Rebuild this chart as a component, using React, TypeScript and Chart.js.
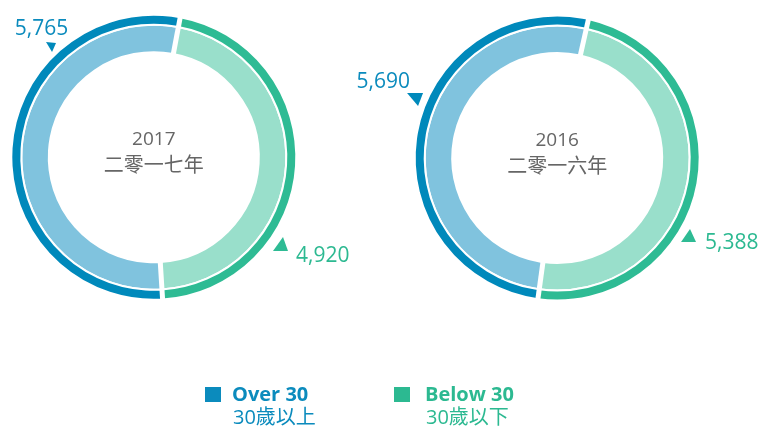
import React, { useEffect, useRef } from 'react';
import { Chart, registerables } from 'chart.js';

Chart.register(...registerables);

// ---- data ----
const years = ['2017', '2016'];
const yearsZh = ['二零一七年', '二零一六年'];
const seriesNames = ['Over 30', 'Below 30'];
const seriesNamesZh = ['30歲以上', '30歲以下'];
const over30 = [5765, 5690];
const below30 = [4920, 5388];

// ---- styles ----
const DARK_BLUE = '#0089bb';
const LIGHT_BLUE = '#80c3de';
const DARK_GREEN = '#2ebb94';
const LIGHT_GREEN = '#99dfcb';
const TEXT_BLUE = '#0b8bbd';
const TEXT_GREEN = '#2cb991';
const CENTER_GRAY = '#666666';

type LabelCfg = {
  series: 'over' | 'below';
  angle: number; // deg clockwise from top
  r: number;
  tri: number[][];
  tx: number;
  ty: number;
  align: CanvasTextAlign;
};

const chartLayouts = [
  {
    left: 0,
    width: 380,
    rotation: 10.7,
    padding: { left: 10.3, top: 13.7, right: 82.7, bottom: 126.3 },
    labels: [
      { series: 'over', angle: -42.75, r: 151.4, tri: [[-5, -4], [5, -3], [1, 6]], tx: -9.5, ty: -11, align: 'center' },
      { series: 'below', angle: 124.9, r: 155.1, tri: [[-8, 5], [7, 5], [2, -9]], tx: 15, ty: 16, align: 'left' },
    ] as LabelCfg[],
  },
  {
    left: 340,
    width: 420,
    rotation: 12.7,
    padding: { left: 73.7, top: 14.5, right: 59.3, bottom: 125.5 },
    labels: [
      { series: 'over', angle: -66.6, r: 153.8, tri: [[-9, -4], [7, -4], [2, 9]], tx: -6, ty: -9, align: 'right' },
      { series: 'below', angle: 121.25, r: 154.2, tri: [[-8, 4], [7, 4], [1, -9]], tx: 16, ty: 11, align: 'left' },
    ] as LabelCfg[],
  },
];

function fmt(n: number) {
  return n.toLocaleString('en-US');
}

function Donut({ index }: { index: number }) {
  const ref = useRef<HTMLCanvasElement | null>(null);
  useEffect(() => {
    if (!ref.current) return;
    const layout = chartLayouts[index];
    const overlay = {
      id: 'overlay' + index,
      afterDatasetsDraw(chart: any) {
        const outerArcs = chart.getDatasetMeta(0).data;
        const innerArcs = chart.getDatasetMeta(chart.data.datasets.length - 1).data;
        if (!outerArcs.length || !innerArcs.length) return;
        const cx = outerArcs[0].x;
        const cy = outerArcs[0].y;
        const rIn = innerArcs[0].innerRadius - 2;
        const rOut = outerArcs[0].outerRadius + 2;
        const ctx = chart.ctx as CanvasRenderingContext2D;
        ctx.save();
        ctx.strokeStyle = '#ffffff';
        ctx.lineWidth = 5;
        ctx.lineCap = 'butt';
        for (const arc of outerArcs) {
          const a = arc.startAngle;
          ctx.beginPath();
          ctx.moveTo(cx + Math.cos(a) * rIn, cy + Math.sin(a) * rIn);
          ctx.lineTo(cx + Math.cos(a) * rOut, cy + Math.sin(a) * rOut);
          ctx.stroke();
        }
        ctx.restore();
      },
      afterDraw(chart: any) {
        const arc = chart.getDatasetMeta(0).data[0];
        if (!arc) return;
        const cx = arc.x;
        const cy = arc.y;
        const ctx = chart.ctx as CanvasRenderingContext2D;
        ctx.save();
        // center text
        ctx.fillStyle = CENTER_GRAY;
        ctx.textAlign = 'center';
        ctx.textBaseline = 'alphabetic';
        ctx.font = '19px "Open Sans", "Noto Sans CJK TC", sans-serif';
        ctx.fillText(years[index], cx, cy - 12);
        ctx.font = '20px "Noto Sans CJK TC", "Open Sans", sans-serif';
        ctx.fillText(yearsZh[index], cx, cy + 15);
        // value labels
        for (const l of layout.labels) {
          const a = (l.angle * Math.PI) / 180;
          const ax = cx + Math.sin(a) * l.r;
          const ay = cy - Math.cos(a) * l.r;
          const color = l.series === 'over' ? TEXT_BLUE : TEXT_GREEN;
          const triColor = l.series === 'over' ? DARK_BLUE : DARK_GREEN;
          ctx.fillStyle = triColor;
          ctx.beginPath();
          l.tri.forEach((p, k) => {
            if (k === 0) ctx.moveTo(ax + p[0], ay + p[1]);
            else ctx.lineTo(ax + p[0], ay + p[1]);
          });
          ctx.closePath();
          ctx.fill();
          const v = l.series === 'over' ? over30[index] : below30[index];
          ctx.fillStyle = color;
          ctx.font = '21px "Open Sans", sans-serif';
          ctx.textAlign = l.align;
          ctx.textBaseline = 'alphabetic';
          ctx.fillText(fmt(v), ax + l.tx, ay + l.ty);
        }
        ctx.restore();
      },
    };
    const chart = new Chart(ref.current, {
      type: 'doughnut',
      data: {
        labels: [seriesNames[1], seriesNames[0]],
        datasets: [
          {
            data: [below30[index], over30[index]],
            backgroundColor: [DARK_GREEN, DARK_BLUE],
            weight: 10,
          } as any,
          {
            data: [below30[index], over30[index]],
            backgroundColor: [LIGHT_GREEN, LIGHT_BLUE],
            weight: 27.5,
          } as any,
        ],
      },
      options: {
        responsive: false,
        animation: false,
        events: [],
        rotation: layout.rotation,
        cutout: 105,
        layout: { padding: layout.padding },
        elements: {
          arc: {
            borderWidth: 2,
            hoverBorderWidth: 2,
            borderColor: '#ffffff',
            borderJoinStyle: 'miter',
            hoverOffset: 0,
            offset: 0,
          } as any,
        },
        plugins: {
          legend: { display: false },
          tooltip: { enabled: false },
        },
      } as any,
      plugins: [overlay],
    });
    return () => chart.destroy();
  }, [index]);
  const layout = chartLayouts[index];
  return (
    <canvas
      ref={ref}
      width={layout.width}
      height={427}
      style={{ position: 'absolute', left: layout.left, top: 0, width: layout.width, height: 427 }}
    />
  );
}

function LegendItem({ x, textOffset, color, name, zh }: { x: number; textOffset: number; color: string; name: string; zh: string }) {
  return (
    <div style={{ position: 'absolute', left: x, top: 380 }}>
      <div style={{ position: 'absolute', left: 0, top: 7, width: 16, height: 15, background: color }} />
      <div
        style={{
          position: 'absolute',
          left: textOffset,
          top: 0,
          whiteSpace: 'nowrap',
          color,
          fontFamily: '"Open Sans", "Noto Sans CJK TC", sans-serif',
          fontWeight: 700,
          fontSize: 20,
          lineHeight: '27px',
        }}
      >
        {name}
      </div>
      <div
        style={{
          position: 'absolute',
          left: textOffset + 1,
          top: 23,
          whiteSpace: 'nowrap',
          color,
          fontFamily: '"Open Sans", "Noto Sans CJK TC", sans-serif',
          fontSize: 20,
          lineHeight: '27px',
        }}
      >
        {zh}
      </div>
    </div>
  );
}

export default function App() {
  return (
    <div style={{ position: 'absolute', left: 0, top: 0, width: 760, height: 427, background: '#fff', overflow: 'hidden' }}>
      <Donut index={0} />
      <Donut index={1} />
      <LegendItem x={205} textOffset={27} color={TEXT_BLUE} name={seriesNames[0]} zh={seriesNamesZh[0]} />
      <LegendItem x={394} textOffset={31} color={TEXT_GREEN} name={seriesNames[1]} zh={seriesNamesZh[1]} />
    </div>
  );
}
